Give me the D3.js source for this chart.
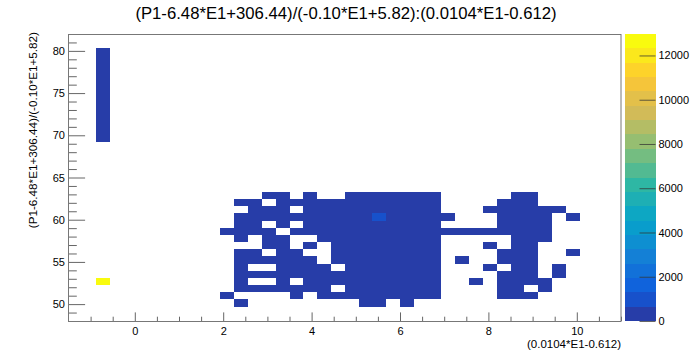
<!DOCTYPE html>
<html>
<head>
<meta charset="utf-8">
<script src="https://cdn.jsdelivr.net/npm/d3@7"></script>
<style>
  html, body { margin: 0; padding: 0; background: #fff; }
  svg { display: block; font-family: "Liberation Sans", Arial, Helvetica, sans-serif; }
</style>
</head>
<body>
<svg id="chart" width="690" height="357"></svg>
<script>
// ---------------- data ----------------
const chartTitle = "(P1-6.48*E1+306.44)/(-0.10*E1+5.82):(0.0104*E1-0.612)";
const xAxisTitle = "(0.0104*E1-0.612)";
const yAxisTitle = "(P1-6.48*E1+306.44)/(-0.10*E1+5.82)";

// histogram binning: [min, max, number of bins]
const xBinning = [-1.5, 11, 40];
const yBinning = [48, 82, 40];

const xTickValues = [0, 2, 4, 6, 8, 10];
const yTickValues = [50, 55, 60, 65, 70, 75, 80];
const zTickValues = [0, 2000, 4000, 6000, 8000, 10000, 12000];

// filled cells: [yBin, "xBin ranges", count]
const cellRuns = [
  [37, "2", 150], [36, "2", 150], [35, "2", 150], [34, "2", 150], [33, "2", 150],
  [32, "2", 150], [31, "2", 150], [30, "2", 150], [29, "2", 150], [28, "2", 150],
  [27, "2", 150], [26, "2", 150], [25, "2", 150],
  [17, "14-15,17,20-26,32-33", 150],
  [16, "12-13,15-26,31-33", 150],
  [15, "13-15,17-26,30-35", 150],
  [14, "12-21,23-27,31-34,36", 150],
  [14, "22", 1100],
  [13, "12-13,15,17-26,31-34", 150],
  [12, "11-14,16-34", 150],
  [11, "12,14-15,18-26,32-34", 150],
  [10, "14-15,17,19-26,30,32-33", 150],
  [9,  "12-13,15-16,19-26,31-33,36", 150],
  [8,  "12-17,19-26,28,31-33", 150],
  [7,  "12,15-18,20-26,30,32-33,35", 150],
  [6,  "12-26,31-33,35", 150],
  [5,  "12,15,17-26,29,31-34", 150],
  [5,  "2", 12970],
  [4,  "12-18,20-26,31-32,34", 150],
  [3,  "11,16,18-26,31-33", 150],
  [2,  "12,21-22,24", 150]
];

// kBird palette stops
const birdStops = ["#352a87", "#0f5cdd", "#1481d6", "#06a4ca", "#2eb7a4",
                   "#87bf77", "#d1bb59", "#fec832", "#f9fb0e"];
const nContours = 20;
const nPaletteColors = 255;

// ---------------- build ----------------
const cells = [];
cellRuns.forEach(([yb, ranges, count]) => {
  ranges.split(",").forEach(r => {
    const [a, b] = r.split("-").map(Number);
    const end = (b === undefined) ? a : b;
    for (let xb = a; xb <= end; xb++) cells.push({ xb, yb, count });
  });
});

const W = 690, H = 357;
const X0 = 68.5, X1 = 621, Y0 = 34, Y1 = 321;
const PX0 = 624.5, PX1 = 655.5;

const x = d3.scaleLinear().domain([xBinning[0], xBinning[1]]).range([X0, X1]);
const y = d3.scaleLinear().domain([yBinning[0], yBinning[1]]).range([Y1, Y0]);
const xbw = (xBinning[1] - xBinning[0]) / xBinning[2];
const ybw = (yBinning[1] - yBinning[0]) / yBinning[2];

const zMax = d3.max(cells, d => d.count);
const z = d3.scaleLinear().domain([0, zMax]).range([Y1, Y0]);

const stopScale = d3.scaleLinear()
  .domain(birdStops.map((_, i) => i / (birdStops.length - 1)))
  .range(birdStops)
  .interpolate(d3.interpolateRgb);
const palette = d3.range(nPaletteColors).map(n => stopScale(n / (nPaletteColors - 1)));
const levelColor = k => palette[Math.floor((k + 0.99) * nPaletteColors / nContours)];
const countColor = c => {
  let k = Math.floor(0.01 + c / zMax * nContours);
  if (k >= nContours) k = nContours - 1;
  return levelColor(k);
};

const svg = d3.select("#chart");

// title
svg.append("text")
  .attr("x", 346).attr("y", 18.5)
  .attr("text-anchor", "middle")
  .attr("font-size", 16.7)
  .attr("fill", "#000")
  .text(chartTitle);

// cells
svg.append("g").selectAll("rect").data(cells).join("rect")
  .attr("x", d => x(xBinning[0] + d.xb * xbw))
  .attr("y", d => y(yBinning[0] + (d.yb + 1) * ybw))
  .attr("width", d => x(xBinning[0] + (d.xb + 1) * xbw) - x(xBinning[0] + d.xb * xbw))
  .attr("height", d => y(yBinning[0] + d.yb * ybw) - y(yBinning[0] + (d.yb + 1) * ybw))
  .attr("fill", d => countColor(d.count))
  .attr("shape-rendering", "crispEdges");

// minor ticks
const xMinor = d3.range(-1, 11.01, 0.5).filter(v => !xTickValues.includes(v));
const yMinor = d3.range(48, 82.01, 1).filter(v => !yTickValues.includes(v));
const tickColor = "#666";

const gxMinor = svg.append("g").attr("transform", `translate(0,${Y1})`)
  .call(d3.axisBottom(x).tickValues(xMinor).tickSize(-4.3).tickSizeOuter(0).tickFormat(""));
const gx = svg.append("g").attr("transform", `translate(0,${Y1})`)
  .call(d3.axisBottom(x).tickValues(xTickValues).tickSize(-8.6).tickSizeOuter(0).tickPadding(6.5).tickFormat(d3.format("d")));
const gyMinor = svg.append("g").attr("transform", `translate(${X0},0)`)
  .call(d3.axisLeft(y).tickValues(yMinor).tickSize(-8.3).tickSizeOuter(0).tickFormat(""));
const gy = svg.append("g").attr("transform", `translate(${X0},0)`)
  .call(d3.axisLeft(y).tickValues(yTickValues).tickSize(-16.6).tickSizeOuter(0).tickPadding(3.5).tickFormat(d3.format("d")));

[gxMinor, gx, gyMinor, gy].forEach(g => {
  g.select(".domain").remove();
  g.selectAll(".tick line").attr("stroke", tickColor);
  g.selectAll(".tick text").attr("font-size", 11).attr("fill", "#000")
    .attr("font-family", "'Liberation Sans', Arial, sans-serif");
});

// frame
svg.append("rect")
  .attr("x", X0).attr("y", Y0 + 0.5)
  .attr("width", X1 - X0).attr("height", Y1 - Y0)
  .attr("fill", "none").attr("stroke", "#777").attr("stroke-width", 1);

// axis titles
svg.append("text")
  .attr("x", X1).attr("y", 347.5)
  .attr("text-anchor", "end")
  .attr("font-size", 11.5)
  .text(xAxisTitle);
svg.append("text")
  .attr("transform", `translate(37,${Y0 - 2}) rotate(-90)`)
  .attr("text-anchor", "end")
  .attr("font-size", 11.7)
  .text(yAxisTitle);

// palette
const bands = d3.range(nContours);
svg.append("g").selectAll("rect").data(bands).join("rect")
  .attr("x", PX0)
  .attr("width", PX1 - PX0)
  .attr("y", k => z(zMax * (k + 1) / nContours))
  .attr("height", k => z(zMax * k / nContours) - z(zMax * (k + 1) / nContours))
  .attr("fill", k => levelColor(k))
  .attr("shape-rendering", "crispEdges");

const gz = svg.append("g").attr("transform", `translate(${PX1},0)`)
  .call(d3.axisRight(z).tickValues(zTickValues).tickSize(-16).tickSizeOuter(0).tickPadding(3).tickFormat(d3.format("d")));
gz.select(".domain").remove();
gz.selectAll(".tick line").attr("stroke", "#333").attr("stroke-opacity", 0.75);
gz.selectAll(".tick text").attr("font-size", 11).attr("fill", "#000")
  .attr("font-family", "'Liberation Sans', Arial, sans-serif");
</script>
</body>
</html>
